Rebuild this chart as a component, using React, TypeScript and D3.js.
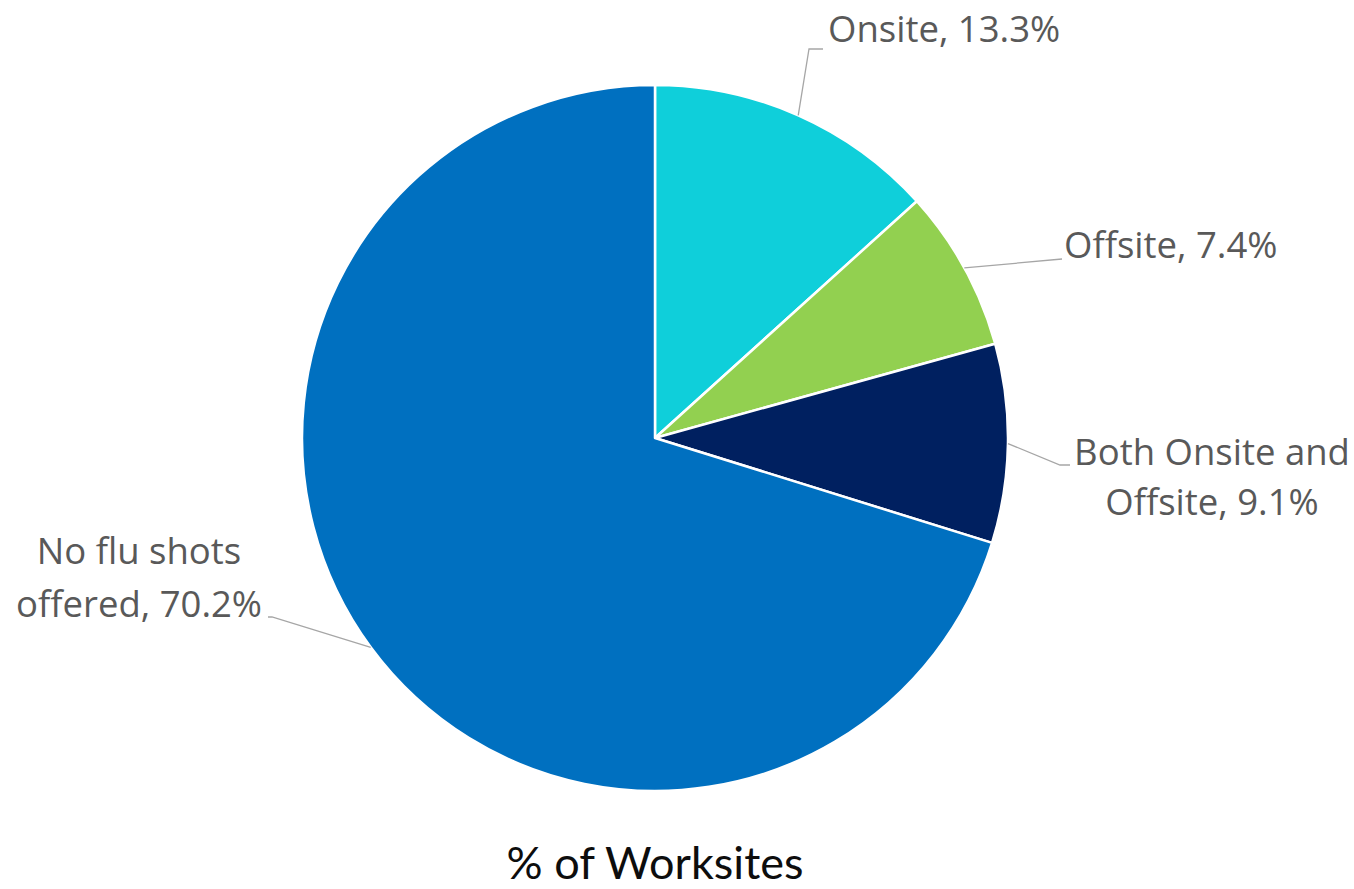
import React from "react";
import * as d3 from "d3";

const categories = ["Onsite", "Offsite", "Both Onsite and Offsite", "No flu shots offered"];
const values = [13.3, 7.4, 9.1, 70.2];
const labelLines = [
  ["Onsite, 13.3%"],
  ["Offsite, 7.4%"],
  ["Both Onsite and", "Offsite, 9.1%"],
  ["No flu shots", "offered, 70.2%"],
];
const colors = ["#0FCFDA", "#92D050", "#002060", "#0070C0"];
const title = "% of Worksites";

// label layout: anchor point, text-anchor, baseline of first line, line height, leader elbow & end
const labelLayout = [
  { x: 828, y: 42, anchor: "start", lh: 50, elbow: [809, 49], end: [823, 49] },
  { x: 1064, y: 258, anchor: "start", lh: 50, elbow: [1062, 259], end: [1062, 259] },
  { x: 1212, y: 465, anchor: "middle", lh: 50, elbow: [1060, 465], end: [1070, 465] },
  { x: 139, y: 564, anchor: "middle", lh: 53, elbow: [272, 617], end: [268, 617] },
];

export default function App() {
  const W = 1354, H = 889;
  const cx = 655, cy = 438, r = 353;
  const pie = d3.pie<number>().sort(null).value((d) => d);
  const arcs = pie(values);
  const arc = d3.arc<d3.PieArcDatum<number>>().innerRadius(0).outerRadius(r);
  const edge = d3.arc<d3.PieArcDatum<number>>().innerRadius(r).outerRadius(r);

  return (
    <svg width={W} height={H} style={{ position: "absolute", left: 0, top: 0, background: "#fff" }}>
      <g transform={`translate(${cx},${cy})`}>
        {arcs.map((a, i) => (
          <path key={categories[i]} d={arc(a) || ""} fill={colors[i]} stroke="#fff" strokeWidth={2.5} strokeLinejoin="round" />
        ))}
      </g>
      {arcs.map((a, i) => {
        const [px, py] = edge.centroid(a);
        const L = labelLayout[i];
        const pts = [[cx + px, cy + py], L.elbow, L.end];
        return (
          <polyline
            key={"l" + i}
            points={pts.map((p) => p.join(",")).join(" ")}
            fill="none"
            stroke="#a6a6a6"
            strokeWidth={1.3}
          />
        );
      })}
      {labelLines.map((lines, i) => {
        const L = labelLayout[i];
        return (
          <text
            key={"t" + i}
            x={L.x}
            y={L.y}
            textAnchor={L.anchor as any}
            fontFamily="'Open Sans', sans-serif"
            fontSize={36.5}
            fill="#595959"
          >
            {lines.map((ln, j) => (
              <tspan key={j} x={L.x} y={L.y + j * L.lh}>
                {ln}
              </tspan>
            ))}
          </text>
        );
      })}
      <text x={cx} y={879} textAnchor="middle" fontFamily="Lato, sans-serif" fontSize={45} fill="#0d0d0d">
        {title}
      </text>
    </svg>
  );
}
